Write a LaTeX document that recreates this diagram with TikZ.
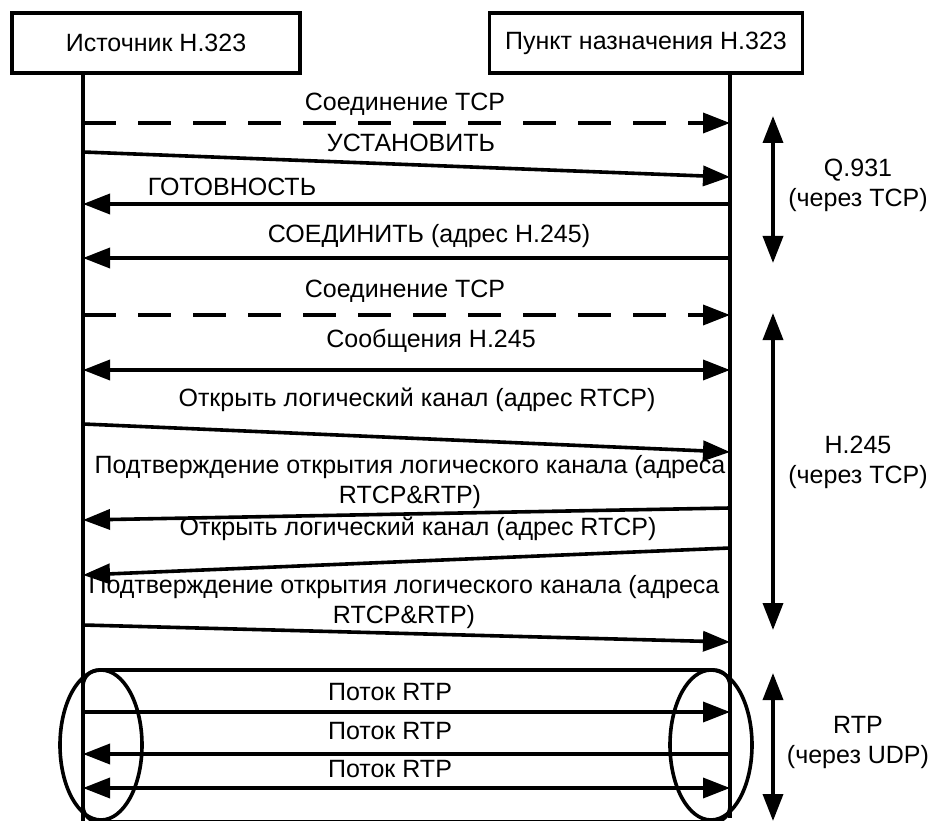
\documentclass[tikz,border=0pt]{standalone}
\usepackage{fontspec}
\setmainfont{Liberation Sans}
\usetikzlibrary{arrows.meta,positioning}

\begin{document}
\begin{tikzpicture}[x=1pt,y=-1pt,
  font=\fontsize{25}{30}\selectfont,
  box/.style={draw,line width=3.6pt,minimum height=60pt,inner sep=0pt},
  life/.style={line width=3.6pt},
  msg/.style={line width=3.6pt,-{Triangle[length=27pt,width=20pt]}},
  twoway/.style={line width=3.6pt,{Triangle[length=27pt,width=20pt]}-{Triangle[length=27pt,width=20pt]}},
  tcp/.style={msg,dash pattern=on 33pt off 22pt},
  lbl/.style={inner sep=0pt,align=center},
  proto/.style={inner sep=0pt,align=center}]
\useasboundingbox (0,0) rectangle (935,821);

% participants
\node[box,minimum width=288pt] (src) at (156,43) {Источник H.323};
\node[box,minimum width=313pt] (dst) at (646,43) {Пункт назначения H.323};

\coordinate (srcend) at (83,821);
\coordinate (dstend) at (730,818);
\draw[life] (src.south -| srcend) -- (srcend);
\draw[life] (dst.south -| dstend) -- (dstend);

% message end points on the lifelines
\foreach \n/\a/\b in {1/123/123,2/152/177,3/204/204,4/258/258,5/315/315,6/370/370,
  7/424/452,8/520/508,9/575/548,10/625/642,11/712/712,12/754/754,13/788/788}
  {\coordinate (s\n) at (83,\a); \coordinate (d\n) at (730,\b);}

% Q.931
\draw[tcp] (s1) -- (d1);
\node[lbl] (l1) at (405,104) {Соединение TCP};
\draw[msg] (s2) -- (d2);
\node[lbl] (l2) at (411,143) {УСТАНОВИТЬ};
\draw[msg] (d3) -- (s3);
\node[lbl] (l3) at (232,187) {ГОТОВНОСТЬ};
\draw[msg] (d4) -- (s4);
\node[lbl] (l4) at (429,236) {СОЕДИНИТЬ (адрес H.245)};

% H.245
\draw[tcp] (s5) -- (d5);
\node[lbl] (l5) at (405,291) {Соединение TCP};
\draw[twoway] (s6) -- (d6);
\node[lbl] (l6) at (431,341) {Сообщения H.245};
\draw[msg] (s7) -- (d7);
\node[lbl] (l7) at (417,400) {Открыть логический канал (адрес RTCP)};
\draw[msg] (d8) -- (s8);
\node[lbl] (l8) at (410,482) {Подтверждение открытия логического канала (адреса\\RTCP\&RTP)};
\draw[msg] (d9) -- (s9);
\node[lbl] (l9) at (418,529) {Открыть логический канал (адрес RTCP)};
\draw[msg] (s10) -- (d10);
\node[lbl] (l10) at (404,602) {Подтверждение открытия логического канала (адреса\\RTCP\&RTP)};

% RTP
\draw[life,rounded corners=16pt] (83,670) rectangle (730,822);
\draw[life] (101,745) ellipse [x radius=41pt,y radius=75pt];
\draw[life] (711,745) ellipse [x radius=41pt,y radius=75pt];
\draw[msg] (s11) -- (d11);
\node[lbl] (l11) at (390,692) {Поток RTP};
\draw[msg] (d12) -- (s12);
\node[lbl] (l12) at (390,731) {Поток RTP};
\draw[twoway] (s13) -- (d13);
\node[lbl] (l13) at (390,769) {Поток RTP};

% protocol spans
\coordinate (q1) at (773,116);
\coordinate (q2) at (773,263);
\coordinate (h1) at (773,313);
\coordinate (h2) at (773,630);
\coordinate (r1) at (773,673);
\coordinate (r2) at (773,821);
\draw[twoway] (q1) -- (q2);
\draw[twoway] (h1) -- (h2);
\draw[twoway] (r1) -- (r2);
\node[proto] (qlbl) at (858,185) {Q.931\\(через TCP)};
\node[proto] (hlbl) at (858,462) {H.245\\(через TCP)};
\node[proto] (rlbl) at (858,742) {RTP\\(через UDP)};
\end{tikzpicture}
\end{document}
